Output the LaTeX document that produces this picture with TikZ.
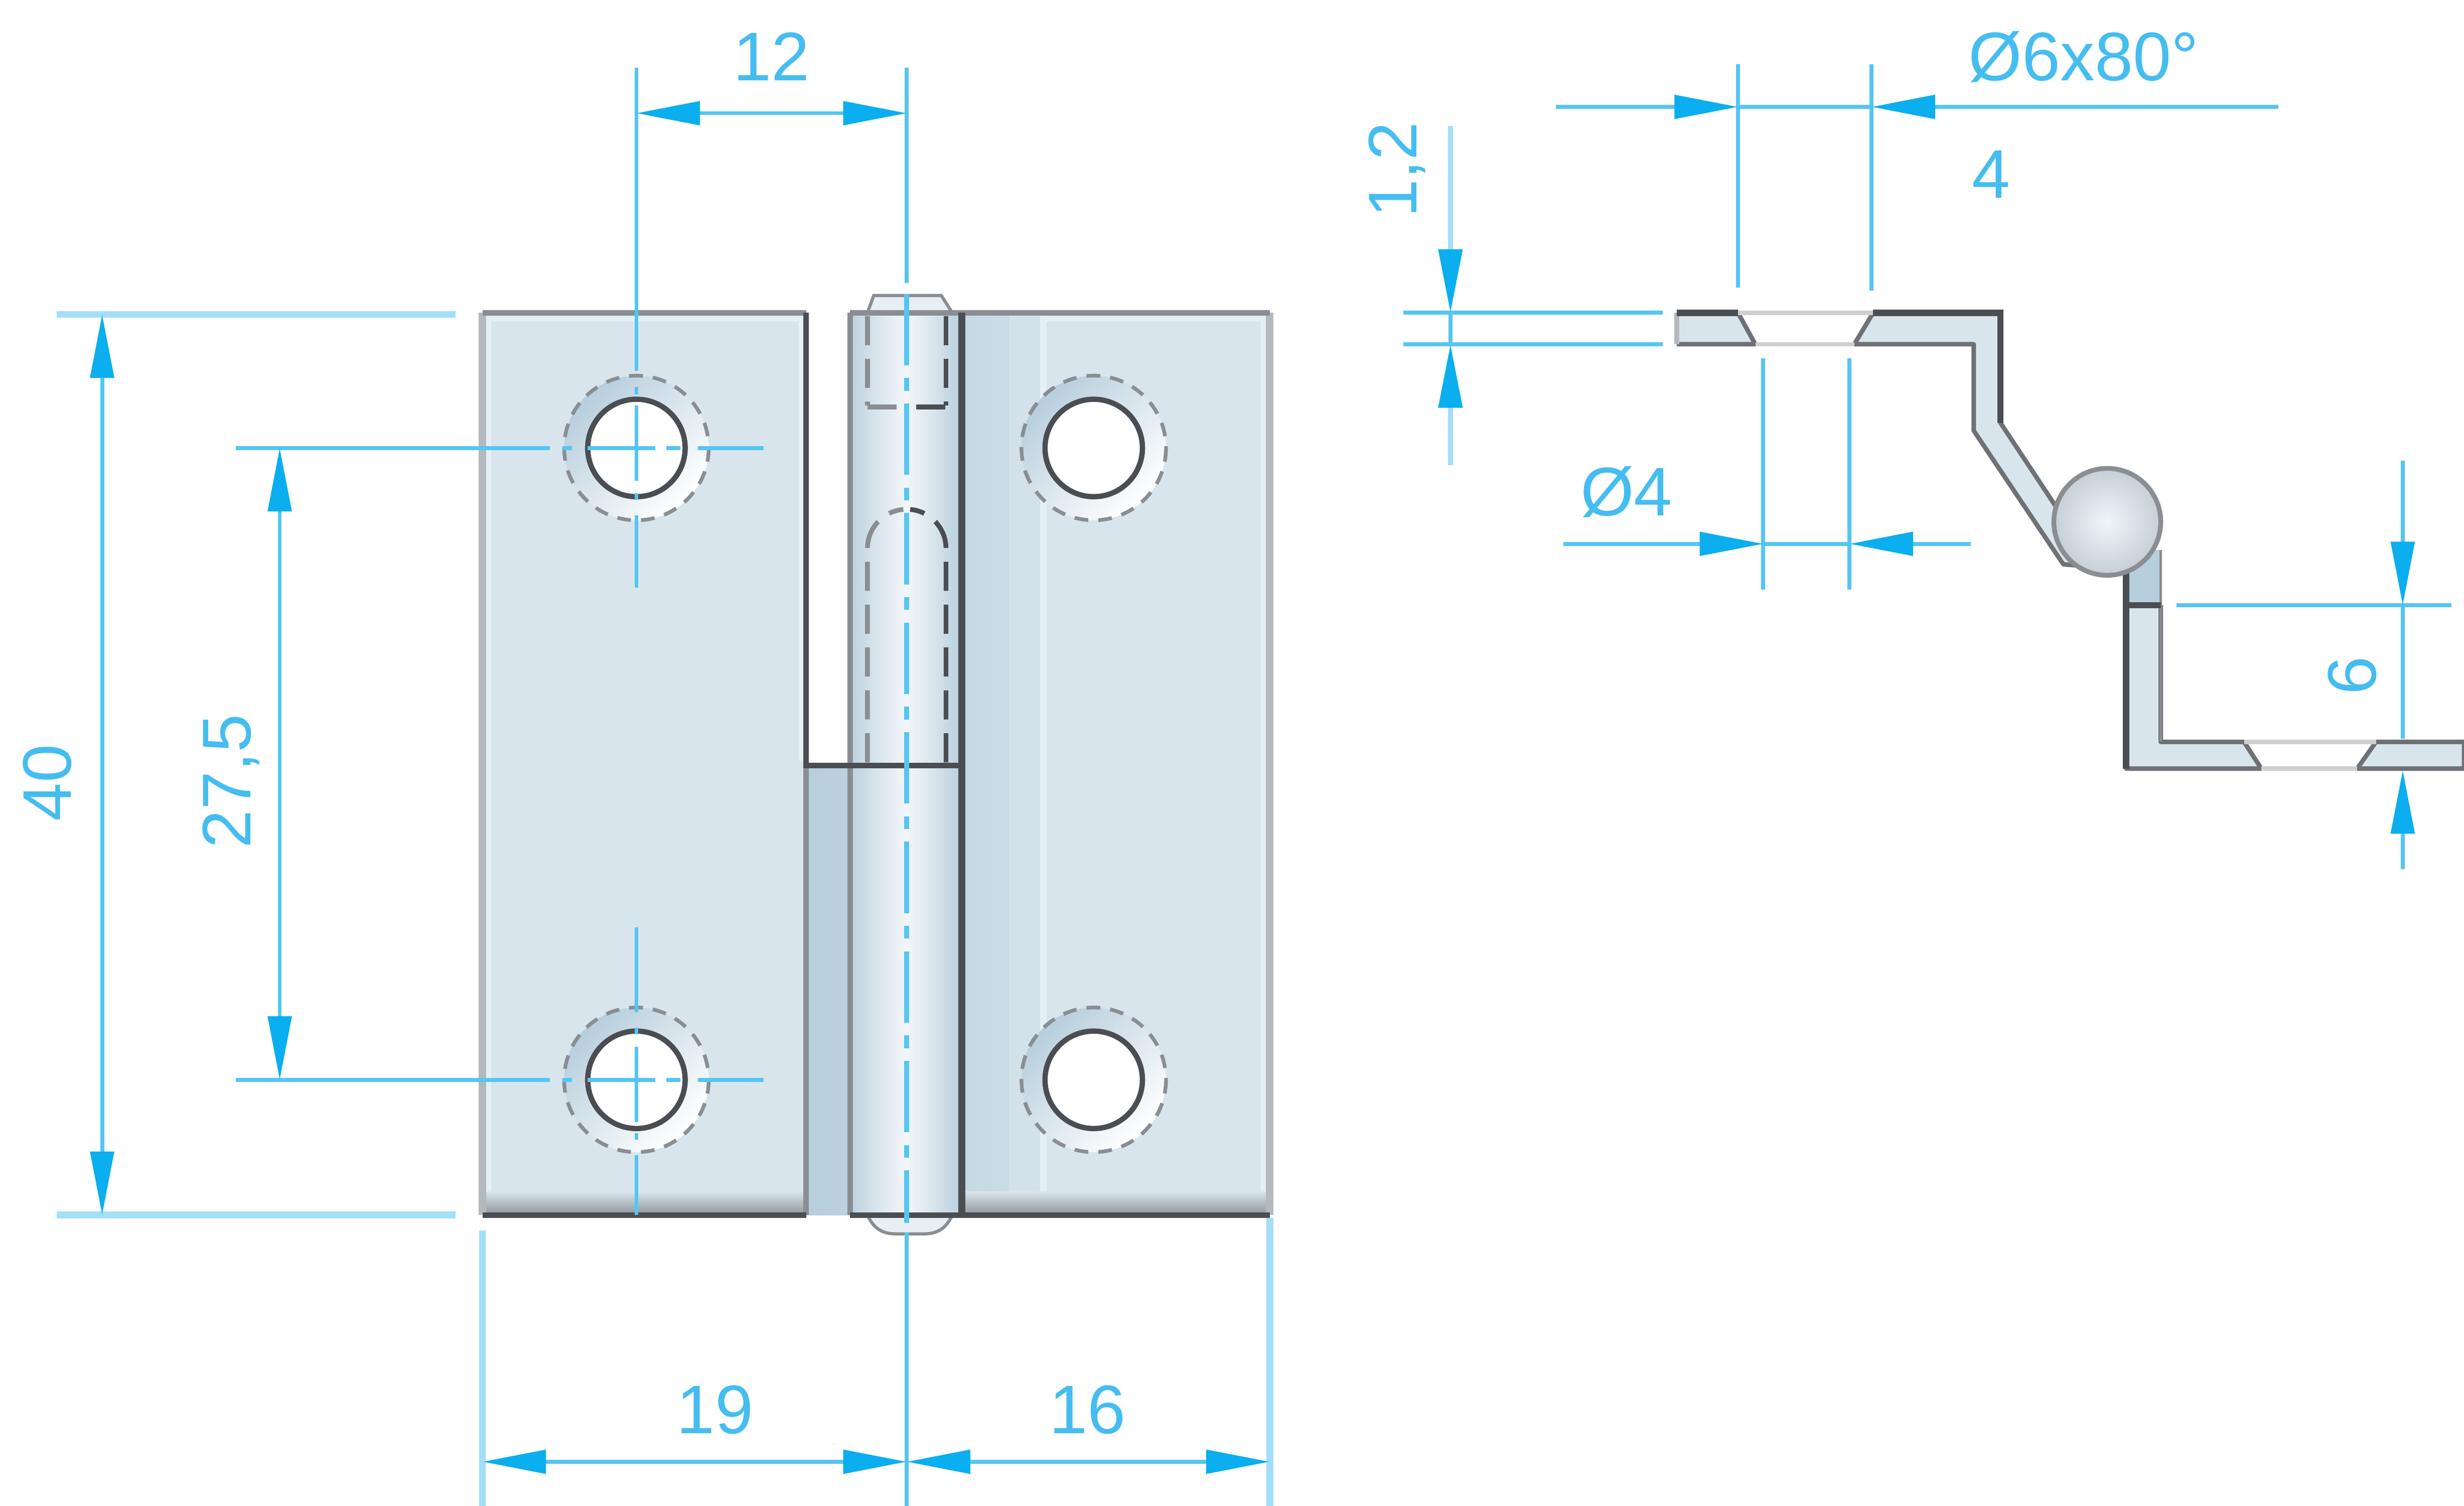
\documentclass[tikz,border=0pt]{standalone}
\usepackage{fontspec}
\setmainfont{Liberation Sans}
\usetikzlibrary{arrows.meta}
\definecolor{dimblue}{HTML}{55C5F2}
\definecolor{dimlight}{HTML}{A3DFF9}
\definecolor{tipblue}{HTML}{0BAEEE}
\definecolor{textblue}{HTML}{45BDF0}
\definecolor{leafblue}{HTML}{D9E5ED}
\definecolor{leafrim}{HTML}{E4F0F7}
\definecolor{bandblue}{HTML}{C6D9E4}
\definecolor{stripblue}{HTML}{B7CEDD}
\definecolor{darkedge}{HTML}{4A4E53}
\definecolor{midedge}{HTML}{8A8E92}
\definecolor{softedge}{HTML}{B3B9BD}
\definecolor{holeline}{HTML}{CFCFCF}
\pgfdeclarehorizontalshading{barrelshade}{100bp}{color(0bp)=(stripblue); color(25bp)=(stripblue!85!leafblue); color(37bp)=(leafblue); color(50bp)=(white!65!leafblue); color(62bp)=(leafblue); color(75bp)=(stripblue); color(100bp)=(stripblue)}
\tikzset{
        dimline/.style={draw=dimblue, line width=.75pt},
        dimwide/.style={draw=dimlight, line width=1.3pt},
        dimtip/.style={-{Triangle[length=12pt,width=4.4pt,color=tipblue]}},
        dimboth/.style={{Triangle[length=12pt,width=4.4pt,color=tipblue]}-{Triangle[length=12pt,width=4.4pt,color=tipblue]}},
        dimlabel/.style={text=textblue, font=\fontsize{13}{15}\selectfont, inner sep=0pt},
        edgedark/.style={draw=darkedge, line width=1.05pt},
        edgemid/.style={draw=midedge, line width=1pt},
        edgesoft/.style={draw=softedge, line width=1.4pt},
        hiddenleft/.style={draw=midedge, line width=.9pt, dash pattern=on 5.5pt off 2.6pt},
        hiddenright/.style={draw=darkedge, line width=.9pt, dash pattern=on 5.5pt off 2.6pt},
        sectionfill/.style={fill=leafblue},
        sectionedge/.style={draw=darkedge!80, line width=.85pt, line join=round},
}
\begin{document}
\begin{tikzpicture}[x=0.01044cm, y=-0.01044cm]
        \useasboundingbox (0,0) rectangle (1568,958);
        % leaves
        \fill[leafblue] (307,199) rectangle (513,773);
        \fill[leafblue] (612,199) rectangle (808,773);
        \draw[leafrim, line width=1pt] (311,770) -- (311,203) -- (510,203) -- (510,484);
        \draw[leafrim, line width=1pt] (616,203) -- (804,203) -- (804,770);
        \shade[left color=bandblue, right color=bandblue!80!leafblue] (613,201) rectangle (642,771);
        \fill[leafblue!70!bandblue] (642,201) rectangle (664,771);
        \fill[leafrim] (662,201) rectangle (666,771);
        \shade[top color=leafblue, bottom color=black!35!leafblue] (309,758) rectangle (513,773);
        \shade[top color=leafblue, bottom color=black!35!leafblue] (612,758) rectangle (808,773);
        % strip under the notch
        \shade[left color=stripblue, right color=stripblue!85!leafblue] (513,487) rectangle (541,773);
        % barrel with its two ends
        \draw[edgemid, fill=leafblue!60!white, line width=.6pt] (552,199) -- (556,188) -- (599,188) -- (606,199);
        \draw[edgemid, fill=leafblue!60!white, line width=.6pt] (552,773) .. controls (556,782) and (562,785) .. (570,785) -- (588,785) .. controls (596,785) and (602,782) .. (606,773);
        \shade[shading=barrelshade] (541,199) rectangle (612,773);
        % outlines
        \draw[edgesoft] (307,773) -- (307,199);
        \draw[edgesoft] (808,199) -- (808,773);
        \draw[edgemid] (307,199) -- (513,199);
        \draw[edgemid] (541,199) -- (808,199);
        \draw[edgemid] (513,487) -- (513,773);
        \draw[edgemid] (541,199) -- (541,773);
        \draw[edgedark] (513,199) -- (513,487) -- (612,487);
        \draw[edgedark, line width=1.3pt] (612,199) -- (612,773);
        \draw[edgedark] (307,773) -- (513,773);
        \draw[edgedark] (541,773) -- (808,773);
        % hidden edges of the pin
        \draw[hiddenleft] (552,201) -- (552,258) (552,259) -- (571,259);
        \draw[hiddenright] (602,201) -- (602,258) (583,259) -- (602,259);
        \draw[hiddenleft] (552,485) -- (552,349) arc[start angle=180, end angle=265, radius=25];
        \draw[hiddenright] (602,485) -- (602,349) arc[start angle=360, end angle=275, radius=25];
        % holes
        \foreach \x/\y/\hname in {405/285/holeA, 405/687/holeB, 696/285/holeC, 696/687/holeD} {
                \coordinate (\hname) at (\x,\y);
                \shade[left color=stripblue, middle color=leafrim, right color=white, shading angle=45] (\hname) circle[radius=46];
                \draw[midedge, line width=.7pt, dash pattern=on 2.6pt off 1.9pt] (\hname) circle[radius=46];
                \draw[darkedge, line width=1pt, fill=white] (\hname) circle[radius=31];
        }
        % centre lines of the holes
        \foreach \y in {285,687} {
                \foreach \a/\b in {-255/-55, -47/-41, -31/12, 19/28, 39/81}
                \draw[dimline] (405+\a,\y) -- (405+\b,\y);
        }
        \foreach \a/\b in {-242/-49, -39/-34, -27/21, 29/33, 43/89}
        \draw[dimline] (405,285+\a) -- (405,285+\b);
        \foreach \a/\b in {-97/-43, -33/-29, -21/27, 34/38, 48/86}
        \draw[dimline] (405,687+\a) -- (405,687+\b);
        % centre line of the barrel
        \draw[dimline] (577,43) -- (577,180);
        \draw[dimblue, line width=1pt, dash pattern=on 13.5pt off 2.4pt on 2.4pt off 2.4pt] (577,187) -- (577,778);
        \draw[dimline] (577,784) -- (577,958);
        % dimensions of the front view
        \draw[dimwide] (36,200) -- (290,200);
        \draw[dimwide] (36,773) -- (290,773);
        \draw[dimline, dimboth] (65,200) -- (65,773);
        \node[dimlabel, rotate=90] (lenA) at (30,498) {40};
        \draw[dimline, dimboth] (178,285) -- (178,687);
        \node[dimlabel, rotate=90] (lenB) at (147,497) {27,5};
        \draw[dimline, dimboth] (405,72) -- (577,72);
        \node[dimlabel] (lenC) at (491,36) {12};
        \draw[dimwide] (307,783) -- (307,958);
        \draw[dimwide] (808,775) -- (808,958);
        \draw[dimline, dimboth] (307,930) -- (577,930);
        \node[dimlabel] (lenD) at (455,897) {19};
        \draw[dimline, dimboth] (577,930) -- (808,930);
        \node[dimlabel] (lenE) at (692,897) {16};
        % side view, upper part
        \fill[sectionfill] (1106,199) -- (1067,199) -- (1067,219) -- (1117,219) -- cycle;
        \draw[sectionedge] (1067,219) -- (1117,219) -- (1106,199);
        \draw[softedge, line width=1pt] (1067,199) -- (1067,219);
        \draw[sectionedge, sectionfill] (1192,199) -- (1273,199) -- (1273,269) -- (1320,340) -- (1325,360) -- (1313,359) -- (1256,274) -- (1256,219) -- (1180,219) -- cycle;
        \draw[darkedge, line width=1.2pt] (1067,199) -- (1106,199) (1192,199) -- (1273,199) -- (1273,269);
        \draw[holeline, line width=.8pt] (1106,199) -- (1192,199);
        \draw[holeline, line width=.8pt] (1117,219) -- (1180,219);
        % side view, lower part
        \fill[stripblue] (1353,350) rectangle (1375,385);
        \draw[sectionedge, sectionfill] (1353,385) -- (1353,489) -- (1439,489) -- (1428,472) -- (1375,472) -- (1375,385);
        \draw[sectionedge, sectionfill] (1512,472) -- (1568,472) -- (1568,489) -- (1500,489) -- cycle;
        \draw[midedge] (1375,350) -- (1375,472);
        \draw[darkedge, line width=1.2pt] (1353,360) -- (1353,489) (1353,385) -- (1375,385);
        \draw[holeline, line width=.8pt] (1428,472) -- (1512,472);
        \draw[holeline, line width=.8pt] (1439,489) -- (1500,489);
        % knuckle
        \shade[inner color=white!40!leafrim, outer color=softedge!50!leafblue, draw=midedge, line width=.9pt] (1341,332) circle[radius=34];
        % dimensions of the side view
        \draw[dimline] (1106,41) -- (1106,183);
        \draw[dimline] (1191,41) -- (1191,185);
        \draw[dimline, dimtip] (990,68) -- (1106,68);
        \draw[dimline, dimtip] (1450,68) -- (1191,68);
        \draw[dimline] (1106,68) -- (1191,68);
        \node[dimlabel] (lenF) at (1326,36) {Ø6x80°};
        \node[dimlabel] (lenG) at (1267,111) {4};
        \draw[dimline] (893,199) -- (1058,199);
        \draw[dimline] (893,219) -- (1058,219);
        \draw[dimlight, line width=.9pt, dimtip] (923,80) -- (923,199);
        \draw[dimlight, line width=.9pt, dimtip] (923,296) -- (923,219);
        \draw[dimline] (923,199) -- (923,219);
        \node[dimlabel, rotate=90] (lenH) at (889,108) {1,2};
        \draw[dimline] (1122,228) -- (1122,375);
        \draw[dimline] (1177,228) -- (1177,375);
        \draw[dimline, dimtip] (995,346) -- (1122,346);
        \draw[dimline, dimtip] (1254,346) -- (1177,346);
        \draw[dimline] (1122,346) -- (1177,346);
        \node[dimlabel] (lenJ) at (1035,313) {Ø4};
        \draw[dimline] (1385,385) -- (1560,385);
        \draw[dimline, dimtip] (1529,293) -- (1529,385);
        \draw[dimline] (1529,385) -- (1529,470);
        \draw[dimline, dimtip] (1529,553) -- (1529,490);
        \node[dimlabel, rotate=90] (lenK) at (1497,430) {6};
\end{tikzpicture}
\end{document}
